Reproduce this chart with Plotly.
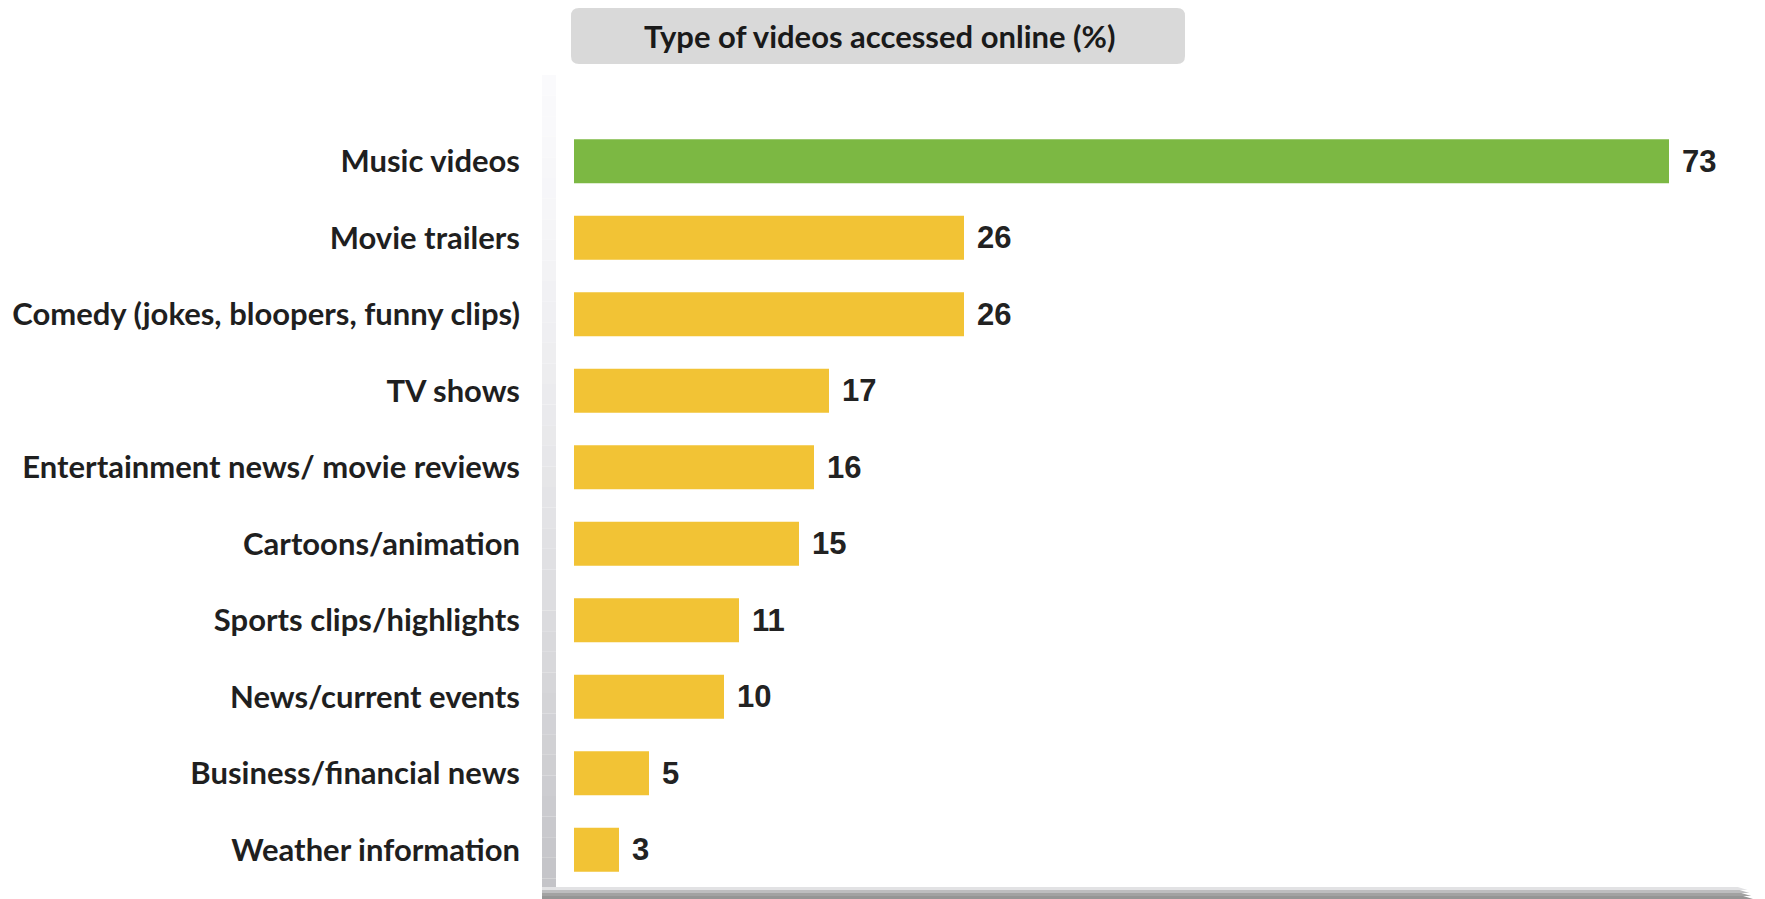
import plotly.graph_objects as go

# Survey data: share of respondents by type of video watched online (%)
categories = [
    "Music videos",
    "Movie trailers",
    "Comedy (jokes, bloopers, funny clips)",
    "TV shows",
    "Entertainment news/ movie reviews",
    "Cartoons/animation",
    "Sports clips/highlights",
    "News/current events",
    "Business/financial news",
    "Weather information",
]
values = [73, 26, 26, 17, 16, 15, 11, 10, 5, 3]
title_text = "Type of videos accessed online (%)"

GREEN = "#7cb843"
YELLOW = "#f2c335"
colors = [GREEN] + [YELLOW] * (len(values) - 1)

W, H = 1765, 899
L, R, T, B = 574, 21, 123, 11
X_MAX = 78
plot_w = W - L - R
plot_h = H - T - B


def px(x):
    """pixel x -> paper x"""
    return (x - L) / plot_w


def py(y):
    """pixel y (from top) -> paper y"""
    return (H - B - y) / plot_h


fig = go.Figure(
    go.Bar(
        x=values,
        y=categories,
        orientation="h",
        marker=dict(color=colors, line=dict(width=0)),
        hoverinfo="skip",
    )
)

# value labels to the right of each bar
for cat, v in zip(categories, values):
    fig.add_annotation(
        x=v, y=cat, xref="x", yref="y",
        text="<b>%d</b>" % v, showarrow=False,
        xanchor="left", xshift=11,
        font=dict(family="Liberation Sans, Arial", size=31, color="#222222"),
    )

shapes = []

# left wall: vertical band fading towards the top
n = 40
top, bot = 75, 899
for i in range(n):
    y0 = top + (bot - top) * i / n
    y1 = top + (bot - top) * (i + 1) / n
    f = i / (n - 1)
    c0 = (250, 250, 252)
    c1 = (196, 196, 200)
    c = tuple(int(c0[k] + (c1[k] - c0[k]) * f ** 1.4) for k in range(3))
    shapes.append(dict(
        type="rect", xref="paper", yref="paper",
        x0=px(542), x1=px(556), y0=py(y1), y1=py(y0),
        fillcolor="rgb(%d,%d,%d)" % c, line=dict(width=0), layer="below",
    ))

# floor: horizontal band along the bottom
floor_rows = [(887, 890, "#e2e2e4"), (890, 893, "#bdbdbf"), (893, 896, "#a2a2a2"), (896, 899, "#959595")]
for y0, y1, c in floor_rows:
    shapes.append(dict(
        type="path", xref="paper", yref="paper",
        path="M %f %f L %f %f L %f %f L %f %f Z" % (
            px(542), py(y0), px(1745 - (899 - y0) * 0.6), py(y0),
            px(1745 - (899 - y1) * 0.6 + 8), py(y1), px(542), py(y1)),
        fillcolor=c, line=dict(width=0), layer="below",
    ))

# rounded title box
bx0, bx1, by0, by1, r = 571, 1185, 8, 64, 8
path = (
    f"M {px(bx0 + r)} {py(by0)} L {px(bx1 - r)} {py(by0)} "
    f"Q {px(bx1)} {py(by0)} {px(bx1)} {py(by0 + r)} "
    f"L {px(bx1)} {py(by1 - r)} Q {px(bx1)} {py(by1)} {px(bx1 - r)} {py(by1)} "
    f"L {px(bx0 + r)} {py(by1)} Q {px(bx0)} {py(by1)} {px(bx0)} {py(by1 - r)} "
    f"L {px(bx0)} {py(by0 + r)} Q {px(bx0)} {py(by0)} {px(bx0 + r)} {py(by0)} Z"
)
shapes.append(dict(type="path", xref="paper", yref="paper", path=path,
                   fillcolor="#d9d9d9", line=dict(width=0), layer="below"))

fig.add_annotation(
    x=px((bx0 + bx1) / 2 + 2), y=py((by0 + by1) / 2), xref="paper", yref="paper",
    text="<b>" + title_text + "</b>", showarrow=False,
    xanchor="center", yanchor="middle",
    font=dict(family="Lato", size=31, color="#1a1a1a"),
)

fig.update_layout(
    width=W, height=H,
    margin=dict(l=L, r=R, t=T, b=B),
    paper_bgcolor="white", plot_bgcolor="rgba(0,0,0,0)",
    bargap=0.425,
    showlegend=False,
    shapes=shapes,
    xaxis=dict(range=[0, X_MAX], visible=False, fixedrange=True),
    yaxis=dict(
        categoryorder="array", categoryarray=categories,
        autorange="reversed", showgrid=False, zeroline=False,
        showline=False, ticks="", ticklabelstandoff=53,
        tickfont=dict(family="Lato", size=31, color="#1f1f1f", weight="bold"),
        fixedrange=True,
    ),
)

fig.write_html("out.html")
